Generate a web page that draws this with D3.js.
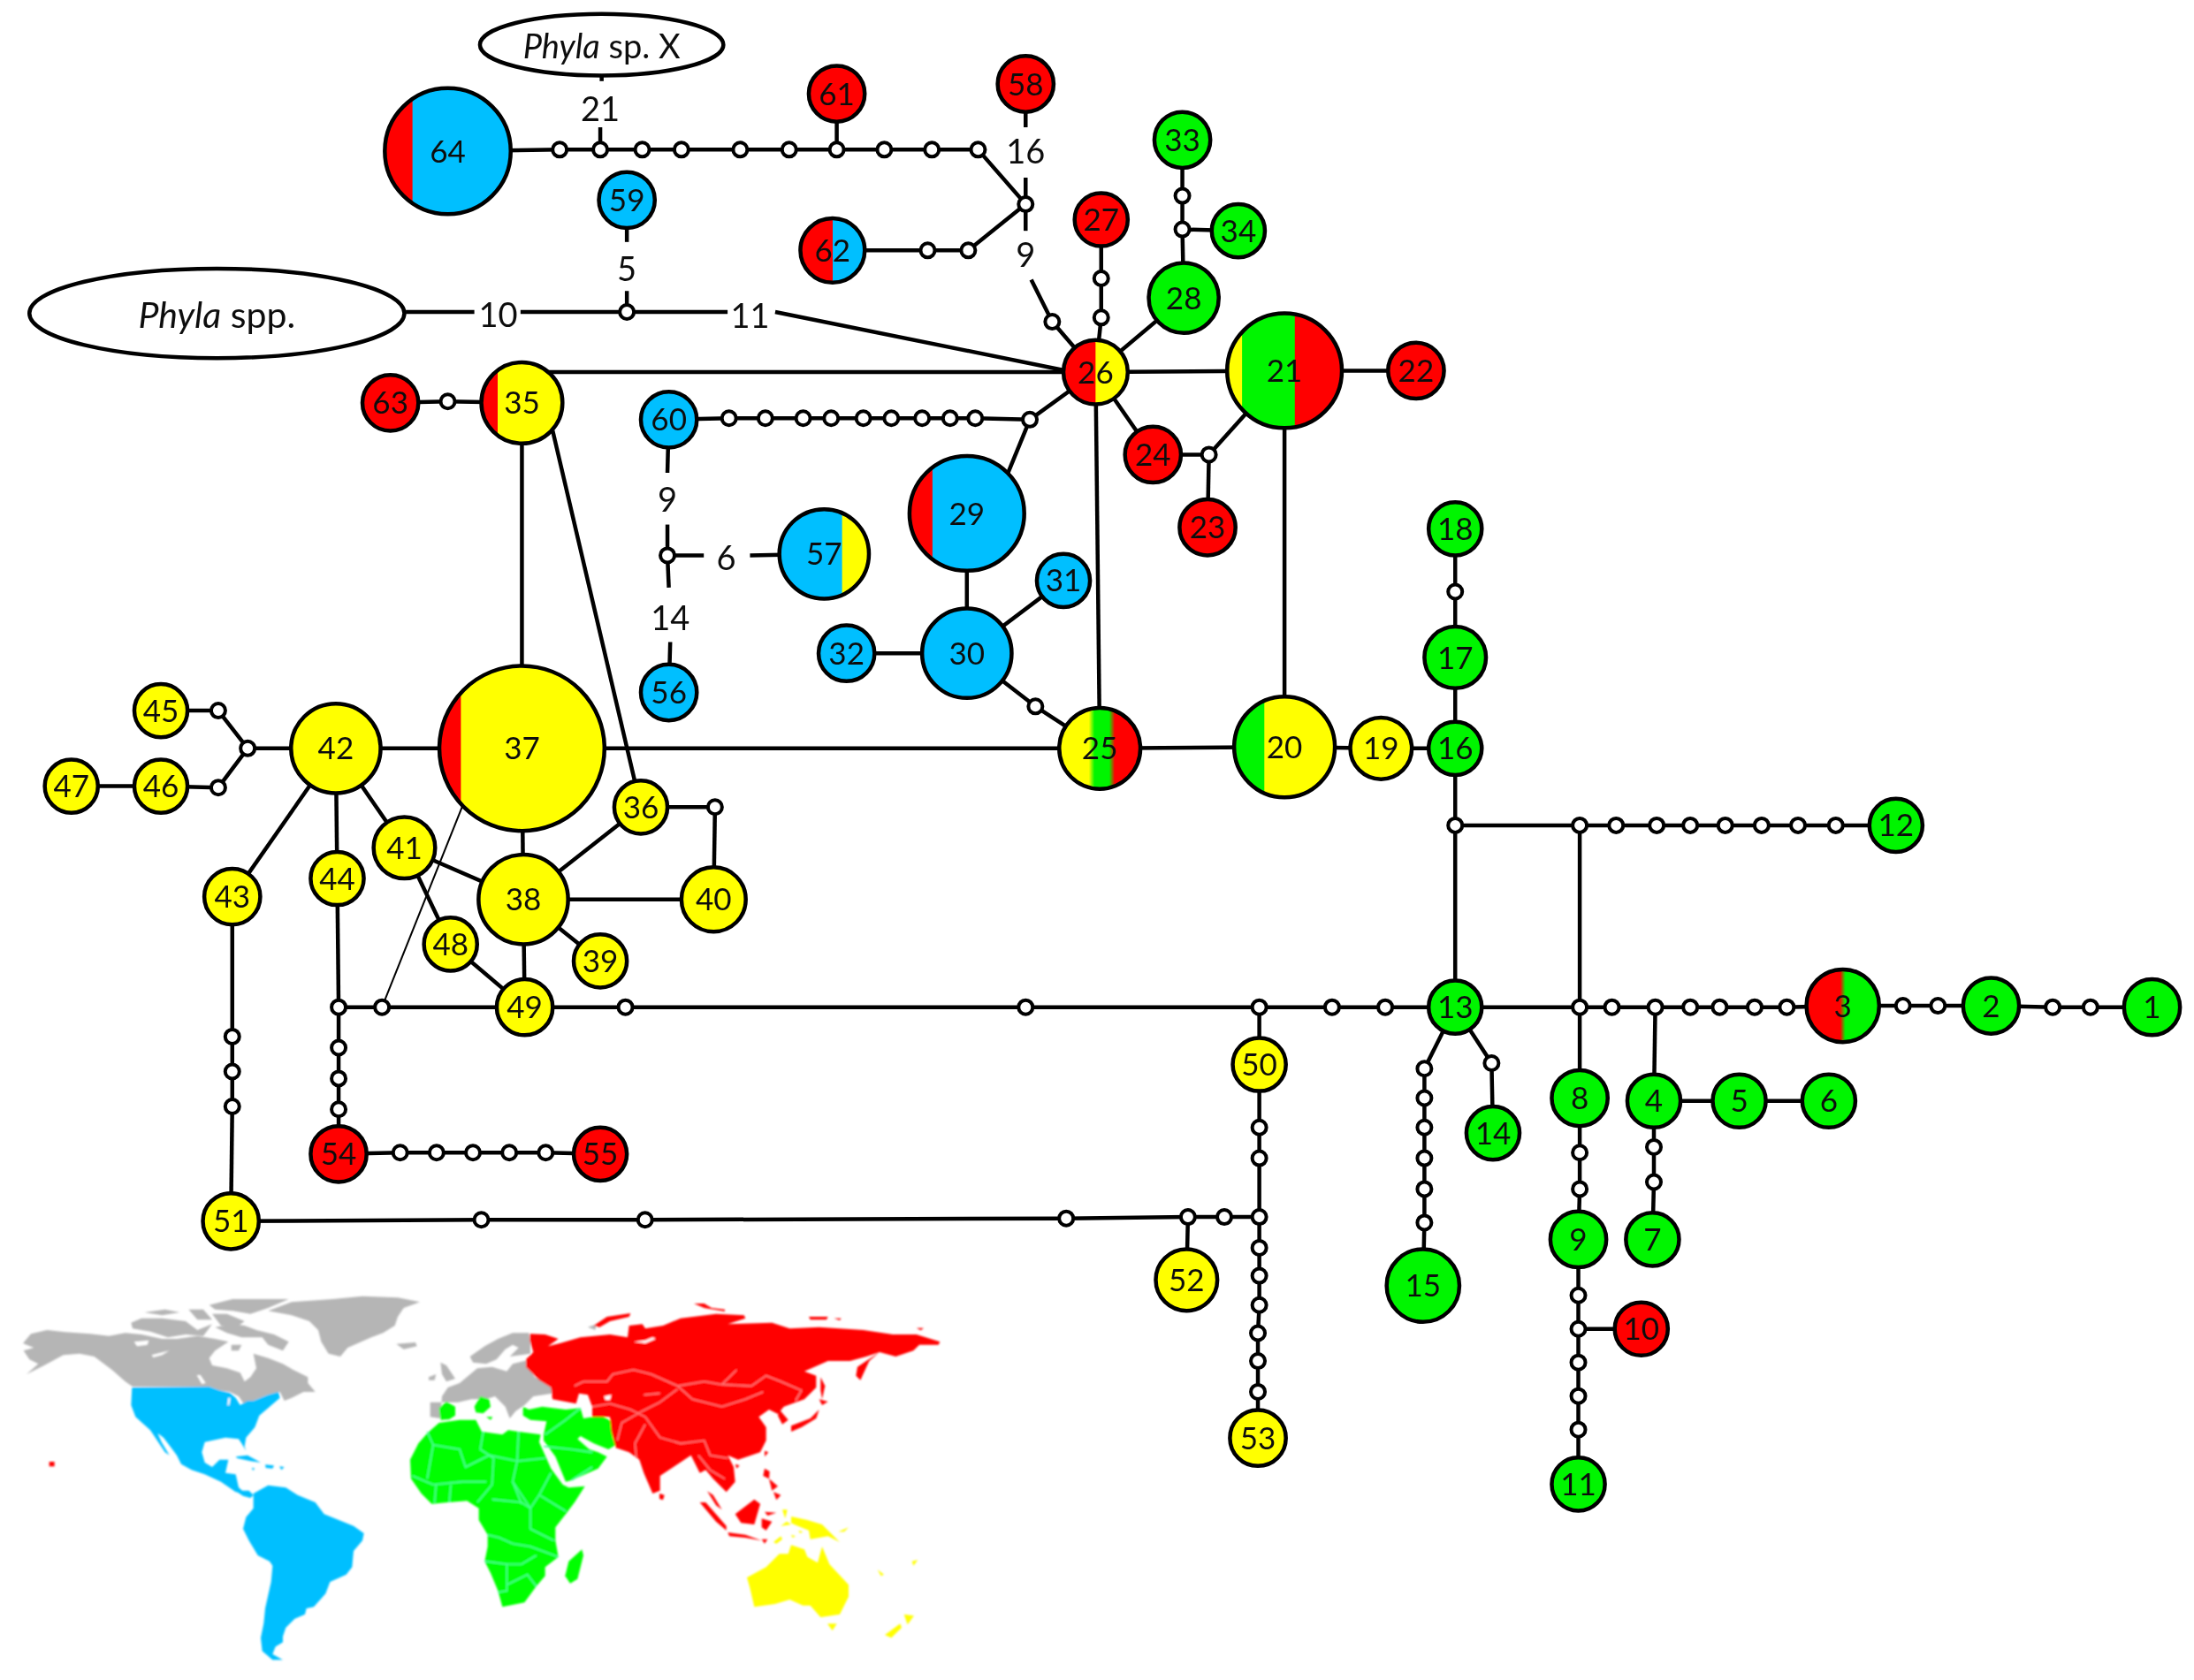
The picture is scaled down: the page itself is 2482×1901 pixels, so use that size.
<!DOCTYPE html>
<html>
<head>
<meta charset="utf-8">
<script src="https://cdn.jsdelivr.net/npm/d3@7"></script>
<style>
  body { margin: 0; background: #fff; }
  text { font-family: Lato, "Open Sans", sans-serif; fill: #111; }
</style>
</head>
<body>
<script>
// haplotypes: id, layout x, layout y, size
var haplotypes = [
  [1,1538,720,20],[2,1423,719,20],[3,1317,719,26],[4,1182,787,19],[5,1243,787,19],[6,1307,787,19],
  [7,1181,886,19],[8,1129,785,20],[9,1128,886,20],[10,1173,950,19],[11,1128,1061,19],[12,1355,590,19],
  [13,1040,720,19],[14,1067,810,19],[15,1017,919,26],[16,1040,535,19],[17,1040,470,22],[18,1040,378,19],
  [19,987,535,22],[20,918,534,36],[21,918,265,41],[22,1012,265,20],[23,863,377,20],[24,824,325,20],
  [25,786,535,29],[26,783,266,23],[27,787,157,19],[28,846,213,25],[29,691,367,41],[30,691,467,32],
  [31,760,415,19],[32,605,467,20],[33,845,100,20],[34,885,165,19],[35,373,288,29],[36,458,577,19],
  [37,373,535,59],[38,374,643,32],[39,429,687,19],[40,510,643,23],[41,289,606,22],[42,240,535,32],
  [43,166,641,20],[44,241,628,19],[45,115,508,19],[46,115,562,19],[47,51,562,19],[48,322,675,19],
  [49,375,720,20],[50,900,761,19],[51,165,873,20],[52,848,915,22],[53,899,1028,20],[54,242,825,20],
  [55,429,825,19],[56,478,495,20],[57,589,396,32],[58,733,60,20],[59,448,143,20],[60,478,300,20],
  [61,598,67,20],[62,595,179,23],[63,279,288,20],[64,320,108,45]
];

// which regions each haplotype comes from, as shares across the circle
var R = "red", G = "green", B = "blue", Y = "yellow";
var regionColor = { red: "#ff0000", green: "#00f500", blue: "#00bfff", yellow: "#ffff00" };
var singleRegion = {
  1:G,2:G,4:G,5:G,6:G,7:G,8:G,9:G,10:R,11:G,12:G,13:G,14:G,15:G,16:G,17:G,18:G,19:Y,22:R,23:R,24:R,
  27:R,28:G,30:B,31:B,32:B,33:G,34:G,36:Y,38:Y,39:Y,40:Y,41:Y,42:Y,43:Y,44:Y,45:Y,46:Y,47:Y,48:Y,49:Y,
  50:Y,51:Y,52:Y,53:Y,54:R,55:R,56:B,58:R,59:B,60:B,61:R,63:R
};
var mixedRegions = {
  3:[[R,.5],[G,.5]], 20:[[G,.3],[Y,.7]], 21:[[Y,.13],[G,.46],[R,.41]], 25:[[Y,.4],[G,.25],[R,.35]],
  26:[[R,.5],[Y,.5]], 29:[[R,.2],[B,.8]], 35:[[R,.2],[Y,.8]], 37:[[R,.13],[Y,.87]], 57:[[B,.7],[Y,.3]],
  62:[[R,.5],[B,.5]], 64:[[R,.22],[B,.78]]
};
var softEdges = [3, 25];

// unsampled intermediate haplotypes (small white dots)
var junctions = [
  ["t1",400,107],["t2",429,107],["t3",459,107],["t4",487,107],["t5",529,107],["t6",564,107],["t7",598,107],
  ["t8",632,107],["t9",666,107],["t10",699,107],["u",733,146],["v1",663,179],["v2",692,179],
  ["w1",752,230],["c1",787,199],["c2",787,227],["d1",845,140],["d2",845,164],["e",448,223],
  ["f1",521,299],["f2",547,299],["f3",574,299],["f4",594,299],["f5",617,299],["f6",637,299],["f7",659,299],
  ["f8",679,299],["f9",697,299],["f10",736,300],["g",864,325],["k",477,397],["m",740,505],["n",1040,423],
  ["p",1040,590],["q0",1129,590],["q1",1155,590],["q2",1184,590],["q3",1208,590],["q4",1233,590],["q5",1259,590],
  ["q6",1285,590],["q7",1312,590],["r0",1129,720],["r1",1152,720],["r2",1183,720],["r3",1208,720],["r4",1229,720],
  ["r5",1254,720],["r6",1277,720],["s1",1360,719],["s2",1385,719],["s3",1467,720],["s4",1494,720],
  ["a1",1182,820],["a2",1182,845],["b1",1129,824],["b2",1129,850],["b3",1128,926],["b4",1128,950],["b5",1128,974],
  ["b6",1128,998],["b7",1128,1022],["h1",1018,764],["h2",1018,785],["h3",1018,806],["h4",1018,828],["h5",1018,850],
  ["h6",1018,874],["i",1066,760],["l0",242,720],["l1",273,720],["l2",447,720],["l3",733,720],["l4",900,720],
  ["l5",952,720],["l6",990,720],["o1",900,806],["o2",900,828],["o3",900,870],["y1",344,872],["y2",461,872],
  ["y3",762,871],["y4",849,870],["y5",875,870],["z1",900,892],["z2",900,912],["z3",900,933],["z4",899,953],
  ["z5",899,973],["z6",899,995],["aa",177,535],["ab",156,508],["ac",156,563],["ad",320,287],["ae",511,577],
  ["af1",166,741],["af2",166,766],["af3",166,791],["ag1",242,749],["ag2",242,771],["ag3",242,793],
  ["ah1",286,824],["ah2",312,824],["ah3",338,824],["ah4",364,824],["ah5",390,824]
];

// line ends beside the step-count labels and on circle rims, no dot drawn
var lineEnds = [
  ["X0",430,52],["X1",430,58],["X2",429,91],["S1",733,91],["S2",733,127],["N1",733,165],["N2",737,200],
  ["P0",290,223],["P1",339,223],["P2",372,223],["P3",520,223],["P4",554,223],["P5",762,265],
  ["F1",448,173],["F2",448,208],["Q1",477,338],["Q2",477,375],["W1",503,397],["W2",536,397],
  ["L1",478,420],["L2",479,459],["C1",331,575],["T1",392,266],["T2",395,308],["A29",720,339]
];

var links = [
  [64,"t1","t2","t3","t4","t5","t6","t7","t8","t9","t10","u","v2","v1",62],
  ["X0","X1"],["X2","t2"],[61,"t7"],[58,"S1"],["S2","u"],["u","N1"],["N2","w1",26],
  [27,"c1","c2",26],[33,"d1","d2",28],["d2",34],[28,26],
  ["P0","P1"],["P2","e","P3"],["P4","P5"],[59,"F1"],["F2","e"],
  [63,"ad",35],["T1",26],[26,21,22],[26,24,"g",21],["g",23],[21,20,25,"m",30,29],["A29","f10",26],
  [60,"f1","f2","f3","f4","f5","f6","f7","f8","f9","f10"],
  [60,"Q1"],["Q2","k","W1"],["W2",57],["k","L1"],["L2",56],
  [30,31],[30,32],[26,25,37,42],[20,19,16,17,"n",18],[16,"p",13],
  ["p","q0","q1","q2","q3","q4","q5","q6","q7",12],["q0","r0"],
  [13,"r0","r1","r2","r3","r4","r5","r6",3,"s1","s2",2,"s3","s4",1],
  ["r2",4,5,6],[4,"a1","a2",7],["r0",8,"b1","b2",9,"b3","b4","b5","b6","b7",11],["b4",10],
  [13,"h1","h2","h3","h4","h5","h6",15],[13,"i",14],
  [13,"l6","l5","l4","l3","l2",49,"l1","l0",44,42],["l4",50,"o1","o2","o3"],
  [51,"y1","y2","y3","y4","y5","o3","z1","z2","z3","z4","z5","z6",53],["y4",52],
  [42,"aa","ab",45],["aa","ac",46,47],[42,43,"af1","af2","af3",51],[42,41,38],[41,48,49,38],
  [38,39],[38,40,"ae",36,38],[35,37,38],["T2",36],
  ["l0","ag1","ag2","ag3",54,"ah1","ah2","ah3","ah4","ah5",55]
];
var thinLinks = [["l1","C1"]];

// numbers of mutational steps
var stepLabels = [
  ["21",429,78],["16",733,108],["9",733,182],["5",448,192],["10",356,225],["11",536,226],
  ["9",477,357],["6",519,399],["14",479,442]
];

// outgroup ovals
var outgroups = [
  { italic: "Phyla", rest: " spp.", x: 155, y: 224, rx: 134, ry: 32 },
  { italic: "Phyla", rest: " sp. X", x: 430, y: 32, rx: 87, ry: 22 }
];
var ovalFont = [41, 38];

var cropNA = [10,1450], cropAF = [440,1480], cropAS = [590,1460], cropSA = [240,1650], cropAU = [800,1690];

var grayLand = [
  [cropNA,[[48,210],[75,178],[130,165],[190,172],[275,178],[340,185],[395,175],[450,180],[520,195],[570,195],[640,185],[700,195],[745,205],[700,235],[680,260],[690,285],[740,295],[785,310],[800,340],[820,325],[840,295],[830,245],[880,260],[930,280],[965,300],[1015,325],[1015,345],[1040,375],[1000,375],[960,395],[935,405],[920,375],[880,385],[830,405],[800,420],[780,390],[750,375],[715,370],[680,357],[420,357],[395,340],[350,300],[290,255],[240,245],[185,250],[120,285],[60,315],[100,280],[70,265],[50,235],[85,225],[60,215]]],
  [cropNA,[[415,140],[450,125],[520,125],[600,135],[640,165],[690,145],[660,185],[600,180],[540,190],[480,170],[420,160]]],
  [cropNA,[[460,105],[530,95],[580,105],[520,115]]],
  [cropNA,[[680,80],[760,60],[950,60],[880,90],[820,110],[760,100],[700,95]]],
  [cropNA,[[610,95],[660,95],[690,130],[640,130]]],
  [cropNA,[[690,110],[740,110],[800,135],[780,150],[720,150]]],
  [cropNA,[[700,155],[760,145],[800,150],[840,165],[900,180],[950,205],[930,235],[880,215],[860,190],[790,190],[740,175]]],
  [cropNA,[[755,215],[790,215],[780,235],[755,235]]],
  [cropNA,[[880,100],[960,70],[1100,60],[1200,50],[1320,55],[1395,70],[1340,90],[1320,120],[1310,150],[1270,175],[1230,190],[1150,225],[1125,255],[1085,245],[1060,205],[1050,165],[1020,135],[960,115]]],
  [cropNA,[[1315,212],[1380,207],[1385,220],[1340,230]]],
  [cropAF,[[475,85],[420,85],[370,105],[325,130],[275,165],[285,185],[330,190],[365,175],[395,140],[420,125],[440,135],[410,165],[480,155],[480,120]]],
  [cropAF,[[490,170],[465,185],[495,235],[560,270],[555,290],[490,300],[460,330],[430,350],[410,375],[395,335],[360,300],[330,310],[280,310],[235,320],[170,320],[140,320],[140,370],[175,375],[180,300],[200,270],[240,255],[300,205],[350,200],[400,215],[420,190],[480,175]]],
  [cropAF,[[175,185],[195,195],[225,240],[195,250],[180,225]]],
  [cropAF,[[135,235],[160,225],[155,245],[135,245]]],
  [cropAS,[[225,125],[255,115],[250,135]]]
];
var greenLand = [
  [cropAF,[[72,515],[100,460],[130,425],[170,390],[240,380],[295,380],[315,420],[385,430],[405,415],[440,420],[515,430],[510,455],[550,545],[590,600],[610,610],[665,605],[630,660],[600,700],[565,745],[565,790],[575,845],[530,880],[530,910],[500,945],[460,1000],[385,1015],[370,960],[345,900],[325,860],[335,810],[335,770],[305,720],[305,680],[265,655],[200,660],[145,665],[110,630],[75,580]]],
  [cropAF,[[455,335],[475,345],[520,335],[600,345],[650,340],[660,375],[720,365],[755,385],[760,440],[770,465],[745,480],[695,460],[650,435],[640,445],[680,480],[710,490],[740,505],[710,545],[620,585],[600,590],[565,505],[525,450],[525,430],[535,385],[480,380],[455,365]]],
  [cropAF,[[655,820],[660,840],[640,920],[615,935],[598,910],[610,860]]],
  [cropAF,[[170,340],[195,318],[225,335],[225,365],[205,378],[175,380]]],
  [cropAF,[[290,335],[310,300],[340,310],[345,335],[320,358],[295,355]]],
  [cropAF,[[330,370],[352,370],[345,380]]]
];
var redLand = [
  [cropAS,[[28,148],[80,150],[125,165],[90,190],[130,180],[200,160],[300,150],[360,160],[365,120],[410,115],[420,130],[480,120],[540,95],[660,80],[755,85],[760,95],[700,115],[850,110],[910,130],[1010,125],[1160,135],[1260,150],[1340,150],[1420,175],[1415,185],[1350,185],[1330,205],[1270,225],[1215,210],[1170,225],[1115,240],[1040,240],[960,275],[1000,290],[1000,330],[960,370],[890,395],[870,420],[840,405],[805,430],[830,465],[830,510],[810,550],[735,575],[700,560],[720,600],[725,650],[695,685],[650,640],[625,610],[605,620],[575,560],[530,590],[470,630],[470,680],[445,690],[415,620],[400,575],[365,550],[320,535],[305,480],[300,430],[240,430],[240,395],[225,355],[195,350],[185,385],[105,370],[100,330],[60,305],[15,260],[15,235],[40,210],[28,170]]],
  [cropAS,[[1215,210],[1180,240],[1150,305],[1135,290],[1140,260],[1170,240]]],
  [cropAS,[[1015,295],[1030,325],[1020,370],[1015,340]]],
  [cropAS,[[1010,370],[1040,378],[1020,390]]],
  [cropAS,[[1010,405],[1000,435],[950,465],[915,480],[915,460],[980,435]]],
  [cropAS,[[875,405],[905,440],[885,455],[870,425]]],
  [cropAS,[[725,590],[740,595],[730,605]]],
  [cropAS,[[825,545],[838,550],[825,565]]],
  [cropAS,[[825,605],[842,615],[840,640],[820,630]]],
  [cropAS,[[855,685],[880,695],[865,712]]],
  [cropAS,[[840,640],[870,665],[850,680]]],
  [cropAS,[[605,720],[625,720],[695,800],[695,815],[660,785]]],
  [cropAS,[[630,682],[650,695],[680,745],[660,730]]],
  [cropAS,[[725,760],[790,710],[810,725],[790,795],[745,790]]],
  [cropAS,[[815,775],[850,785],[830,815],[815,805]]],
  [cropAS,[[700,822],[760,830],[815,850],[760,840],[705,835]]],
  [cropAS,[[825,752],[865,755],[835,765]]],
  [cropAS,[[815,845],[835,845],[825,860]]],
  [cropAS,[[245,120],[290,90],[370,78],[365,90],[300,105],[265,125]]],
  [cropAS,[[585,45],[620,45],[645,60],[690,65],[690,72],[620,60]]],
  [cropAS,[[975,90],[1040,90],[1035,100],[980,100]]],
  [cropAS,[[1060,95],[1085,95],[1080,102]]],
  [cropAS,[[1340,128],[1365,128],[1355,136]]],
  [cropAS,[[468,690],[485,695],[480,712],[468,708]]],
  [cropNA,[[137,612],[155,612],[155,628],[137,628]]]
];
var blueLand = [
  [cropNA,[[418,360],[680,357],[715,370],[750,378],[770,395],[785,420],[810,405],[830,405],[880,385],[915,375],[920,395],[880,430],[850,455],[835,495],[805,530],[800,560],[805,575],[790,550],[780,535],[735,530],[665,545],[655,580],[665,615],[690,630],[715,605],[745,605],[735,650],[770,655],[780,700],[800,718],[770,715],[720,680],[665,655],[620,640],[585,620],[570,590],[555,570],[525,530],[505,515],[518,545],[545,590],[530,580],[490,520],[480,505],[430,460],[415,420]]],
  [cropNA,[[770,595],[810,590],[855,615],[820,610],[775,600]]],
  [cropNA,[[825,632],[835,635],[828,642]]],
  [cropNA,[[918,628],[935,630],[925,640]]],
  [cropNA,[[870,622],[900,625],[895,635],[872,633]]],
  [cropSA,[[60,90],[75,85],[100,110],[125,110],[140,125],[130,135],[105,128],[70,105]]],
  [cropSA,[[140,120],[190,92],[250,100],[290,125],[350,150],[380,190],[430,210],[480,230],[515,255],[510,280],[480,315],[475,370],[455,395],[400,420],[385,460],[345,505],[320,510],[315,530],[280,545],[250,575],[240,605],[240,625],[215,640],[205,665],[240,685],[205,685],[170,655],[165,610],[175,560],[180,510],[200,420],[205,365],[195,350],[155,330],[125,280],[105,240],[115,200],[140,170]]]
];
var yellowLand = [
  [cropAU,[[135,285],[200,250],[245,205],[275,205],[285,175],[330,190],[340,215],[375,235],[390,180],[415,240],[480,310],[480,350],[450,410],[385,420],[350,380],[325,380],[280,360],[230,375],[160,385],[145,320]]],
  [cropAU,[[285,78],[340,90],[390,105],[420,135],[450,165],[410,145],[350,155],[345,125],[295,105],[285,100]]],
  [cropAU,[[225,165],[250,145],[255,155],[235,170]]],
  [cropAU,[[250,110],[270,95],[285,105]]],
  [cropAU,[[255,55],[272,55],[265,85]]],
  [cropAU,[[310,125],[325,130],[315,135]]],
  [cropAU,[[285,140],[300,145],[290,150]]],
  [cropAU,[[445,130],[480,115],[465,130]]],
  [cropAU,[[668,410],[702,415],[680,445]]],
  [cropAU,[[655,442],[660,455],[625,490],[603,480]]],
  [cropAU,[[408,442],[440,442],[425,465]]],
  [cropAU,[[578,258],[600,275],[590,280]]],
  [cropAU,[[695,230],[715,225],[700,245]]]
];
// lakes and inland seas
var whiteWater = [
  [cropNA,[[425,205],[475,200],[470,215],[435,220]]],
  [cropNA,[[485,250],[545,235],[520,250],[490,258]]],
  [cropNA,[[638,318],[650,318],[668,345],[655,348]]],
  [cropNA,[[745,395],[752,395],[748,420],[742,420]]],
  [cropAS,[[280,360],[305,355],[300,372],[285,372]]],
  [cropAS,[[380,175],[420,170],[445,160],[455,165],[420,180]]]
];
// country borders
var greenBorders = [
  [cropAF,[[150,465],[240,480],[260,540],[340,500],[435,520],[420,590],[450,665]]],
  [cropAF,[[130,420],[150,465],[130,580]]],
  [cropAF,[[320,420],[310,480],[355,510],[350,600],[300,660]]],
  [cropAF,[[440,420],[435,520],[530,510]]],
  [cropAF,[[420,590],[480,680],[510,635],[550,560]]],
  [cropAF,[[510,635],[600,690]]],
  [cropAF,[[350,650],[450,660],[480,680],[480,750],[560,790]]],
  [cropAF,[[335,770],[375,780],[420,800],[480,810],[575,845]]],
  [cropAF,[[325,860],[400,870],[400,960],[370,965]]],
  [cropAF,[[400,870],[450,870],[500,840]]],
  [cropAF,[[400,940],[470,905],[500,945]]],
  [cropAF,[[80,570],[150,600],[250,590],[330,590]]],
  [cropAF,[[160,600],[155,660]]],
  [cropAF,[[210,600],[205,660]]],
  [cropAF,[[530,430],[600,380],[650,340]]],
  [cropAF,[[525,470],[620,480],[690,490]]],
  [cropAF,[[620,585],[690,540]]]
];
var redBorders = [
  [cropAS,[[180,325],[210,310],[290,310],[310,285],[380,270],[440,285],[530,325],[620,310],[680,320],[780,325],[830,290],[880,310],[950,340],[930,375]]],
  [cropAS,[[530,325],[580,370],[680,395],[760,370],[820,345]]],
  [cropAS,[[680,320],[730,270]]],
  [cropAS,[[530,335],[470,380],[410,410],[340,450],[325,510]]],
  [cropAS,[[240,395],[300,385],[370,405],[420,430],[470,500],[540,520],[620,510],[640,560],[700,570]]],
  [cropAS,[[420,455],[385,520],[390,570]]],
  [cropAS,[[600,560],[640,610],[690,640]]],
  [cropAS,[[415,355],[470,350]]]
];

var width = 2482, height = 1901;

var x = d3.scaleLinear().domain([0, 1568]).range([0, width]);
var y = d3.scaleLinear().domain([0, 1201]).range([0, height]);
var size = d3.scaleLinear().domain([0, 1]).range([0, width / 1568]);
// crop pixels back to page pixels
var cropScale = d3.scaleLinear().domain([0, 3]).range([0, 1]);

var svg = d3.select("body").append("svg")
    .attr("width", width)
    .attr("height", height)
    .style("display", "block");

var defs = svg.append("defs");
defs.append("filter").attr("id", "soft")
    .append("feGaussianBlur").attr("stdDeviation", 1.3);
defs.append("filter").attr("id", "softer")
    .append("feGaussianBlur").attr("stdDeviation", 0.5);

// map
function cropPath(d){
    var line = d3.line()
        .x(function(p){ return d[0][0] + cropScale(p[0]); })
        .y(function(p){ return d[0][1] + cropScale(p[1]); });
    return line(d[1]);
}
var map = svg.append("g").attr("filter", "url(#soft)");
[[grayLand, "#b5b5b5"], [greenLand, "#00ff00"], [redLand, "#ff0000"], [blueLand, "#00bfff"], [yellowLand, "#ffff00"], [whiteWater, "#fff"]].forEach(function(land){
    map.append("g").selectAll("path").data(land[0]).enter().append("path")
        .attr("d", function(d){ return cropPath(d) + "Z"; })
        .attr("fill", land[1]);
});
[[greenBorders, "#4dff99"], [redBorders, "#ff7a7a"]].forEach(function(b){
    map.append("g").selectAll("path").data(b[0]).enter().append("path")
        .attr("d", cropPath)
        .attr("fill", "none")
        .attr("stroke", b[1])
        .attr("stroke-width", 1.6);
});

// lookup of every point in the network
var points = {};
haplotypes.forEach(function(d){ points[d[0]] = d; });
junctions.forEach(function(d){ points[d[0]] = d; });
lineEnds.forEach(function(d){ points[d[0]] = d; });

var chart = svg.append("g").attr("filter", "url(#softer)");

function pairs(list){
    var out = [];
    list.forEach(function(p){ d3.pairs(p).forEach(function(q){ out.push(q); }); });
    return out;
}
function drawLinks(list, w){
    chart.append("g").selectAll("line").data(pairs(list)).enter().append("line")
        .attr("x1", function(d){ return x(points[d[0]][1]); })
        .attr("y1", function(d){ return y(points[d[0]][2]); })
        .attr("x2", function(d){ return x(points[d[1]][1]); })
        .attr("y2", function(d){ return y(points[d[1]][2]); })
        .attr("stroke", "#000")
        .attr("stroke-width", w);
}
drawLinks(links, 4.5);
drawLinks(thinLinks, 2);

// dots
chart.append("g").selectAll("circle").data(junctions).enter().append("circle")
    .attr("cx", function(d){ return x(d[1]); })
    .attr("cy", function(d){ return y(d[2]); })
    .attr("r", 8)
    .attr("fill", "#fff")
    .attr("stroke", "#000")
    .attr("stroke-width", 4);

// one hard-edged gradient per mixed haplotype
Object.keys(mixedRegions).forEach(function(id){
    var soft = softEdges.indexOf(+id) >= 0 ? 0.035 : 0.004;
    var grad = defs.append("linearGradient").attr("id", "mix" + id);
    var at = 0;
    mixedRegions[id].forEach(function(band, i){
        var end = at + band[1];
        grad.append("stop").attr("offset", i == 0 ? 0 : at + soft).attr("stop-color", regionColor[band[0]]);
        grad.append("stop").attr("offset", i == mixedRegions[id].length - 1 ? 1 : end - soft).attr("stop-color", regionColor[band[0]]);
        at = end;
    });
});

var hap = chart.append("g").selectAll("g").data(haplotypes).enter().append("g")
    .attr("transform", function(d){ return "translate(" + x(d[1]) + "," + y(d[2]) + ")"; });

hap.append("circle")
    .attr("r", function(d){ return size(d[3]); })
    .attr("fill", function(d){
        return mixedRegions[d[0]] ? "url(#mix" + d[0] + ")" : regionColor[singleRegion[d[0]]];
    })
    .attr("stroke", "#000")
    .attr("stroke-width", 4.5);

hap.append("text")
    .attr("text-anchor", "middle")
    .attr("dy", "0.36em")
    .style("font-size", "35px")
    .text(function(d){ return d[0]; });

// step counts
chart.append("g").selectAll("text").data(stepLabels).enter().append("text")
    .attr("x", function(d){ return x(d[1]); })
    .attr("y", function(d){ return y(d[2]); })
    .attr("text-anchor", "middle")
    .attr("dy", "0.36em")
    .style("font-size", "38px")
    .text(function(d){ return d[0]; });

// outgroups
var oval = chart.append("g").selectAll("g").data(outgroups).enter().append("g");
oval.append("ellipse")
    .attr("cx", function(d){ return x(d.x); })
    .attr("cy", function(d){ return y(d.y); })
    .attr("rx", function(d){ return size(d.rx); })
    .attr("ry", function(d){ return size(d.ry); })
    .attr("fill", "#fff")
    .attr("stroke", "#000")
    .attr("stroke-width", 4.5);
var ovalText = oval.append("text")
    .attr("x", function(d){ return x(d.x); })
    .attr("y", function(d){ return y(d.y) + 2; })
    .attr("text-anchor", "middle")
    .attr("dy", "0.36em")
    .style("font-size", function(d, i){ return ovalFont[i] + "px"; });
ovalText.append("tspan").style("font-style", "italic").text(function(d){ return d.italic; });
ovalText.append("tspan").style("white-space", "pre").text(function(d){ return d.rest; });
</script>
</body>
</html>
